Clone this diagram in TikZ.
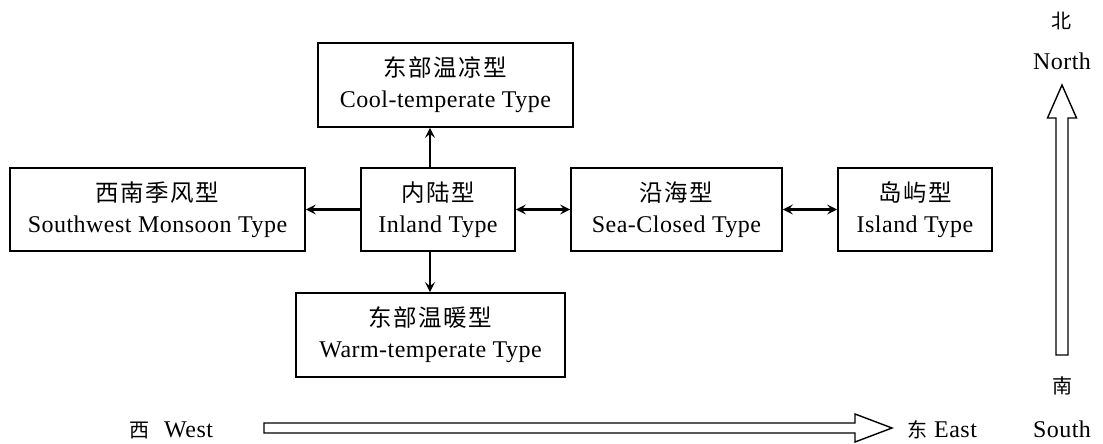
\documentclass[tikz,border=0pt]{standalone}
\usepackage{fontspec}
\setmainfont{Liberation Serif}[LetterSpace=2]
\newfontfamily\cjk{Noto Sans CJK SC}[LetterSpace=6]
\newfontfamily\cjkplain{Noto Sans CJK SC}
\usetikzlibrary{arrows.meta,calc}
\begin{document}
\begin{tikzpicture}[x=1pt,y=-1pt,
  typebox/.style={draw, line width=1.8pt, inner sep=0pt, align=center,
    font=\fontsize{24}{31}\selectfont},
  head/.tip={Stealth[length=10pt,width=10pt,inset=4pt]},
  link/.style={line width=2.6pt, -head},
  twoway/.style={line width=2.6pt, head-head},
  compass/.style={draw, line width=1.4pt, line join=miter},
  dirlabel/.style={inner sep=0pt, font=\fontsize{24}{28}\selectfont},
  dirzh/.style={inner sep=0pt, font=\cjkplain\fontsize{20}{24}\selectfont}]
\useasboundingbox (0,0) rectangle (1103,444);

% climate type boxes
\newcommand{\zh}[1]{{\cjk\fontsize{23.5}{31}\selectfont #1}}
\node[typebox, minimum width=295pt, minimum height=83pt] (sw) at (157.5,209.5)
  {\zh{西南季风型}\\Southwest Monsoon Type};
\node[typebox, minimum width=154pt, minimum height=83pt] (inl) at (438,209.5)
  {\zh{内陆型}\\Inland Type};
\node[typebox, minimum width=211pt, minimum height=83pt] (sea) at (676.5,209.5)
  {\zh{沿海型}\\Sea-Closed Type};
\node[typebox, minimum width=154pt, minimum height=83pt] (isl) at (915,209.5)
  {\zh{岛屿型}\\Island Type};
\node[typebox, minimum width=255pt, minimum height=84pt] (cool) at (445.5,85)
  {\zh{东部温凉型}\\Cool-temperate Type};
\node[typebox, minimum width=269pt, minimum height=84pt] (warm) at (430.5,335)
  {\zh{东部温暖型}\\Warm-temperate Type};

% links between the types
\draw[link] (inl.west) -- (sw.east);
\draw[twoway] (inl.east) -- (sea.west);
\draw[twoway] (sea.east) -- (isl.west);
\draw[link] ([xshift=-8pt]inl.north) -- ([xshift=-8pt]inl.north |- cool.south);
\draw[link] ([xshift=-8pt]inl.south) -- ([xshift=-8pt]inl.south |- warm.north);

% west-east direction arrow
\coordinate (ewtail) at (264,428);
\coordinate (ewtip) at (892,428);
\draw[compass] ($(ewtail)+(0,-5)$) -- ($(ewtip)+(-37,-5)$) -- ($(ewtip)+(-37,-14)$)
  -- (ewtip) -- ($(ewtip)+(-37,14)$) -- ($(ewtip)+(-37,5)$) -- ($(ewtail)+(0,5)$) -- cycle;
\node[dirlabel, anchor=base west] (west) at (129,437)
  {{\cjkplain\fontsize{20}{24}\selectfont 西}\hspace{15pt}West};
\node[dirlabel, anchor=base west] (east) at (907,437)
  {{\cjkplain\fontsize{20}{24}\selectfont 东}\hspace{7pt}East};

% south-north direction arrow
\coordinate (nstail) at (1062,355);
\coordinate (nstip) at (1062,85);
\draw[compass] ($(nstail)+(-6,0)$) -- ($(nstip)+(-6,33)$) -- ($(nstip)+(-14.5,33)$)
  -- (nstip) -- ($(nstip)+(14.5,33)$) -- ($(nstip)+(6,33)$) -- ($(nstail)+(6,0)$) -- cycle;
\node[dirzh] (bei) at (1061,21) {北};
\node[dirlabel, anchor=base] (north) at (1062,70) {North};
\node[dirzh] (nan) at (1062,386) {南};
\node[dirlabel, anchor=base] (south) at (1062,437) {South};
\end{tikzpicture}
\end{document}
